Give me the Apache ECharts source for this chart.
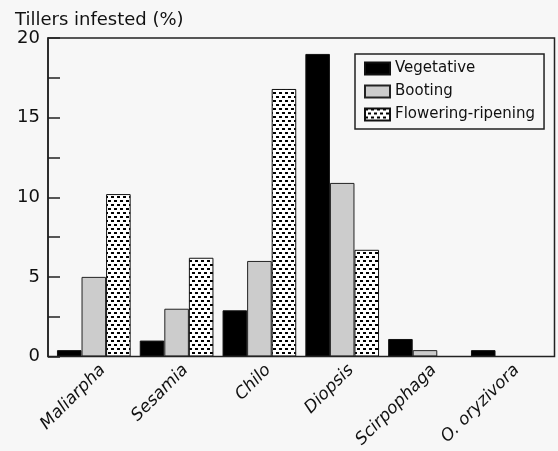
<!DOCTYPE html>
<html>
<head>
<meta charset="utf-8">
<script src="https://cdn.jsdelivr.net/npm/echarts@6/dist/echarts.min.js"></script>
<style>html,body{margin:0;padding:0;background:#f7f7f7;}#c{width:558px;height:451px;}</style>
</head>
<body>
<div id="c"></div>
<script>
const categories = ['Maliarpha', 'Sesamia', 'Chilo', 'Diopsis', 'Scirpophaga', 'O. oryzivora'];
const vegetative = [0.4, 1.0, 2.9, 19.0, 1.1, 0.4];
const booting = [5.0, 3.0, 6.0, 10.9, 0.4, 0];
const flowering = [10.2, 6.2, 16.8, 6.7, 0, 0];
const yTicks = [0, 5, 10, 15, 20];

function makePattern() {
  const c = document.createElement('canvas');
  c.width = 6; c.height = 8;
  const g = c.getContext('2d');
  g.fillStyle = '#ffffff';
  g.fillRect(0, 0, 6, 8);
  g.fillStyle = '#000000';
  g.fillRect(0, 0, 3, 2);
  g.fillRect(3, 4, 3, 2);
  return c;
}
const pattern = { image: makePattern(), repeat: 'repeat' };

const chart = echarts.init(document.getElementById('c'), null, { renderer: 'canvas' });
const FONT = 'DejaVu Sans';
const frame = { left: 48, right: 554.5, top: 38, bottom: 356.5 };
const barGrid = { left: 52.4, right: 8.8, top: 38, bottom: 94.5 };
const labelShift = 9;

chart.setOption({
  backgroundColor: '#f7f7f7',
  animation: false,
  textStyle: { fontFamily: FONT },
  title: {
    text: 'Tillers infested (%)',
    left: 10, top: 6,
    textStyle: { fontFamily: FONT, fontSize: 18, fontWeight: 'normal', color: '#111' }
  },
  legend: {
    orient: 'vertical',
    left: 355, top: 54,
    padding: [7, 9, 7, 9],
    itemWidth: 25, itemHeight: 12, itemGap: 8,
    icon: 'rect',
    borderColor: '#222', borderWidth: 1.5,
    backgroundColor: '#f7f7f7',
    textStyle: { fontFamily: FONT, fontSize: 15, color: '#111' },
    data: ['Vegetative', 'Booting', 'Flowering-ripening']
  },
  graphic: [{
    type: 'rect', z: 5, silent: true,
    shape: { x: frame.left, y: frame.top, width: frame.right - frame.left, height: frame.bottom - frame.top },
    style: { fill: null, stroke: '#222', lineWidth: 1.5 }
  }],
  grid: [
    barGrid,
    { left: barGrid.left + labelShift, right: barGrid.right - labelShift, top: barGrid.top, bottom: barGrid.bottom }
  ],
  xAxis: [{
    type: 'category', gridIndex: 0,
    data: categories,
    axisLine: { show: false },
    axisTick: { show: false },
    axisLabel: { show: false }
  }, {
    type: 'category', gridIndex: 1,
    data: categories,
    axisLine: { show: false },
    axisTick: { show: false },
    axisLabel: { rotate: 45, fontStyle: 'italic', fontFamily: FONT, fontSize: 17, color: '#111', margin: 11, interval: 0 }
  }],
  yAxis: [{
    type: 'value', gridIndex: 0, min: 0, max: 20, interval: 5,
    offset: barGrid.left - frame.left,
    axisLine: { show: true, lineStyle: { color: '#222', width: 1.5 } },
    axisTick: { show: true, inside: true, length: 12, lineStyle: { color: '#222', width: 1.5 } },
    minorTick: { show: true, splitNumber: 2, length: 12, lineStyle: { color: '#222', width: 1.5 } },
    splitLine: { show: false },
    axisLabel: { fontFamily: FONT, fontSize: 18, color: '#111', margin: 8,
      formatter: v => yTicks.includes(v) ? String(v) : '' }
  }, {
    type: 'value', gridIndex: 1, min: 0, max: 20, show: false
  }],
  series: [
    { name: 'Vegetative', type: 'bar', data: vegetative, barGap: '0%', barCategoryGap: '11%',
      itemStyle: { color: '#000', borderColor: '#111', borderWidth: 1 } },
    { name: 'Booting', type: 'bar', data: booting,
      itemStyle: { color: '#cccccc', borderColor: '#222', borderWidth: 1 } },
    { name: 'Flowering-ripening', type: 'bar', data: flowering,
      itemStyle: { color: pattern, borderColor: '#111', borderWidth: 1 } }
  ]
});
</script>
</body>
</html>
